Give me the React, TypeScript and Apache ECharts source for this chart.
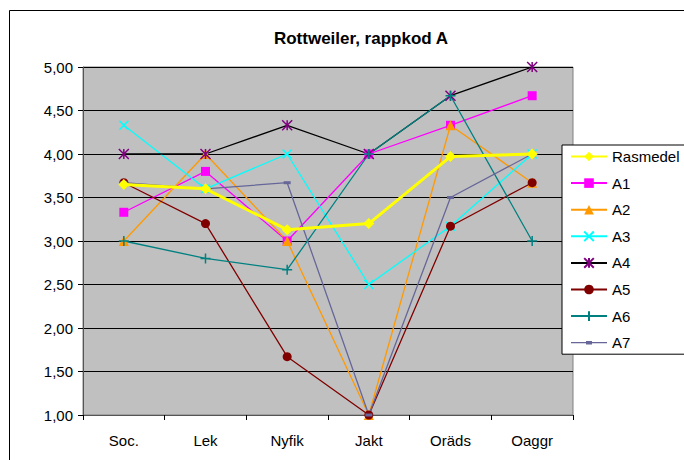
import React, { useEffect, useRef } from "react";
import * as echarts from "echarts";

const categories = ["Soc.", "Lek", "Nyfik", "Jakt", "Oräds", "Oaggr"];
const rasmedel = [3.65, 3.6, 3.13, 3.2, 3.97, 4.0];
const a1 = [3.33, 3.8, 3.0, 4.0, 4.33, 4.67];
const a2 = [3.0, 4.0, 3.0, 1.0, 4.33, 3.67];
const a3 = [4.33, 3.6, 4.0, 2.5, 3.17, 4.0];
const a4 = [4.0, 4.0, 4.33, 4.0, 4.67, 5.0];
const a5 = [3.67, 3.2, 1.67, 1.0, 3.17, 3.67];
const a6 = [3.0, 2.8, 2.67, 4.0, 4.67, 3.0];
const a7 = [3.67, 3.6, 3.67, 1.0, 3.5, 4.0];
const yTicks = [1, 1.5, 2, 2.5, 3, 3.5, 4, 4.5, 5];

const FONT = "Liberation Sans";

const X_PATH = "path://M0,0L10,10M10,0L0,10";
const STAR_PATH = "path://M0,0L10,10M10,0L0,10M5,0L5,10";
const PLUS_PATH = "path://M5,0L5,10M0,5L10,5";
const A7_ICON = "path://M0,5.4h36v1.2h-36z M15,4.2h6v3.6h-6z";

export default function App() {
  const ref = useRef<HTMLDivElement>(null);
  useEffect(() => {
    if (!ref.current) return;
    const chart = echarts.init(ref.current, null, { renderer: "svg" });
    const mk = (
      name: string,
      data: number[],
      lineColor: string,
      markColor: string,
      symbol: string,
      symbolSize: any,
      width: number,
      stroke?: boolean
    ) => ({
      name,
      type: "line",
      data,
      symbol,
      symbolSize,
      showAllSymbol: true,
      lineStyle: { color: lineColor, width },
      itemStyle: stroke
        ? { color: markColor, borderColor: markColor, borderWidth: 1.5 }
        : { color: markColor, borderColor: markColor, borderWidth: 0 },
      emphasis: { disabled: true },
      z: 2,
    });
    chart.setOption({
      animation: false,
      backgroundColor: "#ffffff",
      textStyle: { fontFamily: FONT },
      title: {
        text: "Rottweiler, rappkod A",
        left: 356,
        textAlign: "center",
        top: 25,
        textStyle: { fontFamily: FONT, fontSize: 17, fontWeight: "bold", color: "#000" },
      },
      graphic: [
        {
          type: "rect",
          shape: { x: 9.5, y: 10.5, width: 700, height: 470 },
          style: { fill: "none", stroke: "#000", lineWidth: 1 },
          silent: true,
        },
      ],
      grid: {
        left: 83,
        top: 67,
        right: 111,
        bottom: 45,
        show: true,
        backgroundColor: "#C0C0C0",
        borderColor: "#808080",
        borderWidth: 1,
      },
      legend: {
        orient: "vertical",
        left: 562,
        top: 145,
        width: 140,
        backgroundColor: "#ffffff",
        borderColor: "#000",
        borderWidth: 1,
        padding: [4, 20, 4, 8],
        itemWidth: 36,
        itemHeight: 12,
        itemGap: 11.6,
        textStyle: { fontFamily: FONT, fontSize: 15, color: "#000" },
        data: [
          "Rasmedel",
          "A1",
          "A2",
          "A3",
          "A4",
          "A5",
          "A6",
          { name: "A7", icon: A7_ICON },
        ],
      },
      xAxis: {
        type: "category",
        data: categories,
        boundaryGap: true,
        axisLine: { show: true, lineStyle: { color: "#555", width: 1 } },
        axisTick: { show: true, alignWithLabel: false, length: 5, lineStyle: { color: "#000" } },
        axisLabel: { fontFamily: FONT, fontSize: 15, color: "#000", margin: 18 },
        splitLine: { show: false },
      },
      yAxis: {
        type: "value",
        min: 1,
        max: 5,
        interval: 0.5,
        axisLine: { show: true, lineStyle: { color: "#555", width: 1 } },
        axisTick: { show: true, length: 5, lineStyle: { color: "#000" } },
        axisLabel: {
          fontFamily: FONT,
          fontSize: 15,
          color: "#000",
          margin: 10,
          formatter: (v: number) =>
            yTicks.includes(v) ? v.toFixed(2).replace(".", ",") : "",
        },
        splitLine: { show: true, lineStyle: { color: "#000", width: 1 } },
      },
      series: [
        mk("A1", a1, "#FF00FF", "#FF00FF", "rect", 9, 1.3),
        mk("A2", a2, "#FF9900", "#FF9900", "triangle", 10, 1.3),
        mk("A3", a3, "#00FFFF", "#00FFFF", X_PATH, 9, 1.3, true),
        mk("A4", a4, "#000000", "#800080", STAR_PATH, 10, 1.3, true),
        mk("A5", a5, "#800000", "#800000", "circle", 9, 1.3),
        mk("A6", a6, "#008080", "#008080", PLUS_PATH, 10, 1.3, true),
        mk("A7", a7, "#666699", "#666699", "rect", [7, 3], 1.3),
        { ...mk("Rasmedel", rasmedel, "#FFFF00", "#FFFF00", "diamond", 11, 3), z: 3 },
      ],
    });
    return () => chart.dispose();
  }, []);
  return (
    <div
      ref={ref}
      style={{ position: "fixed", left: 0, top: 0, width: 684, height: 460 }}
    />
  );
}
